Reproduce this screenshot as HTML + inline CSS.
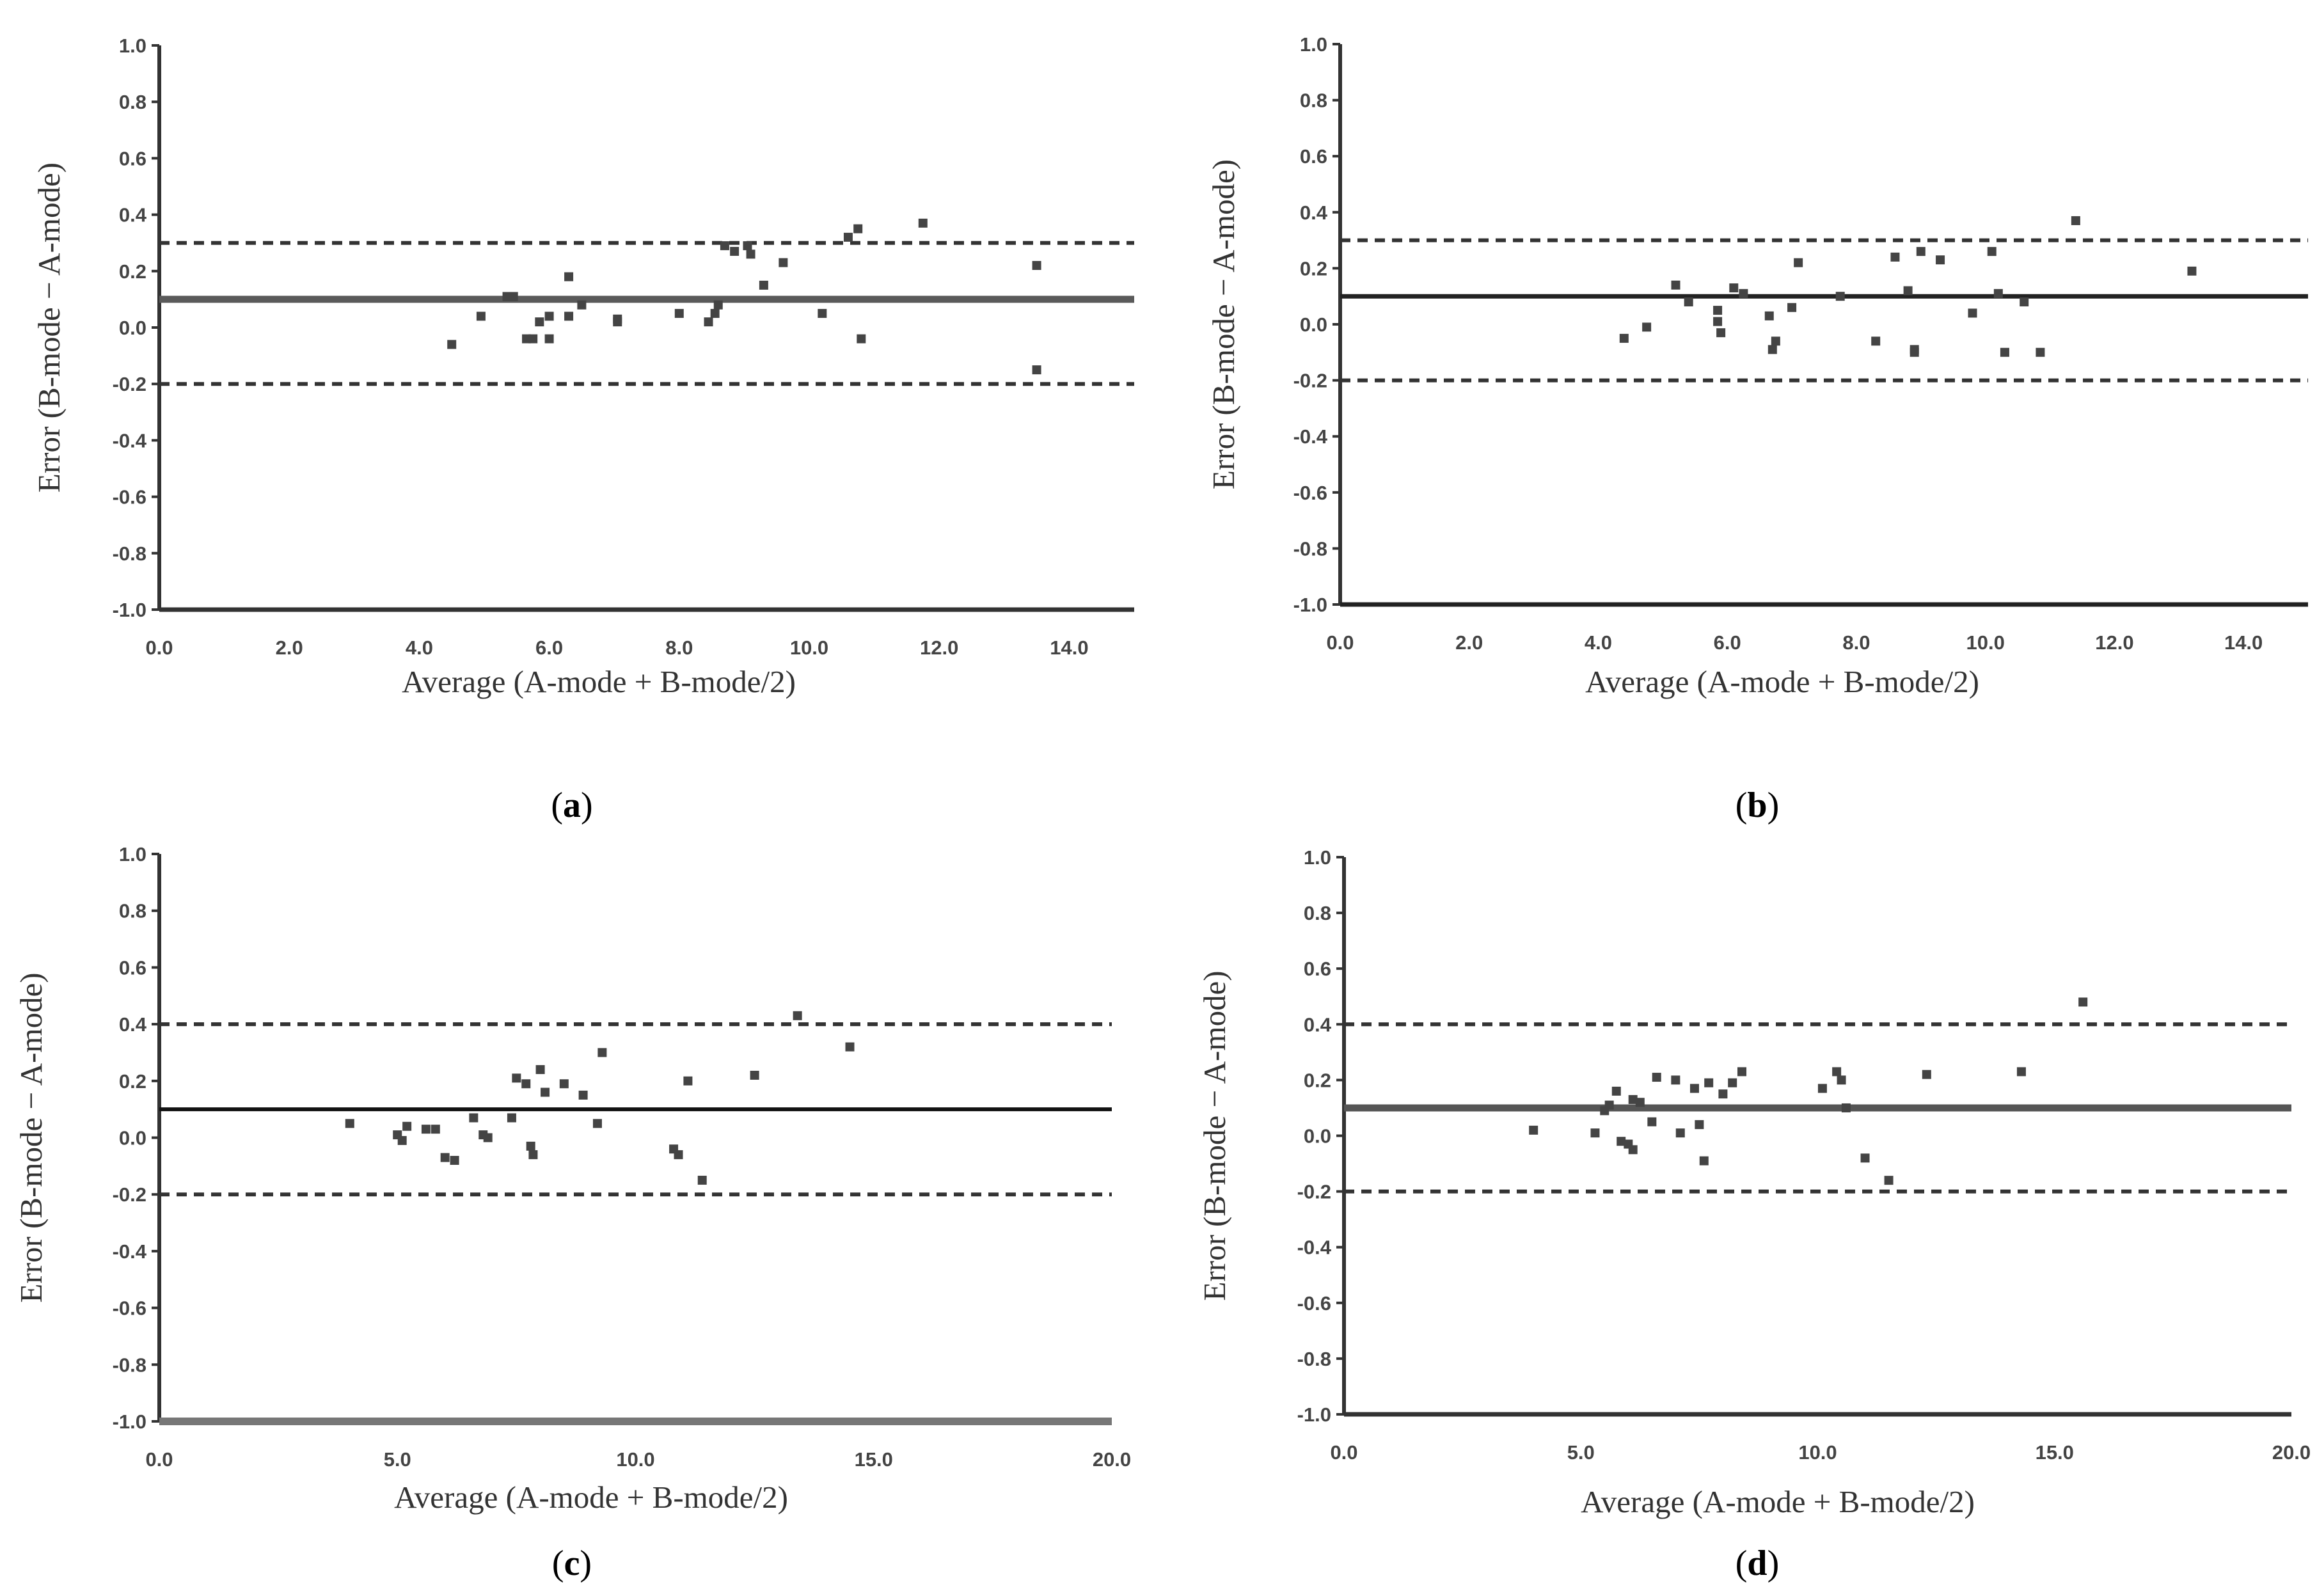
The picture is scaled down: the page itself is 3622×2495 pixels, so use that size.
<!DOCTYPE html>
<html><head><meta charset="utf-8"><style>
html,body{margin:0;padding:0;background:#fff;}
svg{display:block;font-family:"Liberation Serif",serif;}
.tick{font-family:"Liberation Sans",sans-serif;font-weight:bold;font-size:31px;fill:#444;}
.title{font-size:49px;fill:#333;}
.cap{font-size:56px;fill:#000;}
</style></head><body>
<svg id="chart" width="3622" height="2495" viewBox="0 0 3622 2495"></svg>
<script>
const yTicks = [1.0,0.8,0.6,0.4,0.2,0.0,-0.2,-0.4,-0.6,-0.8,-1.0];
const xTicks15 = [0,2,4,6,8,10,12,14];
const xTicks20 = [0,5,10,15,20];
const meanLines = [0.1,0.1,0.1,0.1];
const upperLimits = [0.3,0.3,0.4,0.4];
const lowerLimits = [-0.2,-0.2,-0.2,-0.2];
const aX = [4.5,4.95,5.35,5.45,5.65,5.75,5.85,6.0,6.0,6.3,6.3,6.5,7.05,7.05,8.0,8.45,8.55,8.6,8.7,8.85,9.05,9.1,9.3,9.6,10.2,10.6,10.75,10.8,11.75,13.5,13.5];
const aY = [-0.06,0.04,0.11,0.11,-0.04,-0.04,0.02,0.04,-0.04,0.04,0.18,0.08,0.02,0.03,0.05,0.02,0.05,0.08,0.29,0.27,0.29,0.26,0.15,0.23,0.05,0.32,0.35,-0.04,0.37,0.22,-0.15];
const bX = [4.4,4.75,5.2,5.4,5.85,5.85,5.9,6.1,6.25,6.65,6.7,6.75,7.0,7.1,7.75,8.3,8.6,8.8,8.9,8.9,9.0,9.3,9.8,10.1,10.2,10.3,10.6,10.85,11.4,13.2];
const bY = [-0.05,-0.01,0.14,0.08,0.05,0.01,-0.03,0.13,0.11,0.03,-0.09,-0.06,0.06,0.22,0.10,-0.06,0.24,0.12,-0.10,-0.09,0.26,0.23,0.04,0.26,0.11,-0.10,0.08,-0.10,0.37,0.19];
const cX = [4.0,5.0,5.1,5.2,5.6,5.8,6.0,6.2,6.6,6.8,6.9,7.4,7.5,7.7,7.8,7.85,8.0,8.1,8.5,8.9,9.2,9.3,10.8,10.9,11.1,11.4,12.5,13.4,14.5];
const cY = [0.05,0.01,-0.01,0.04,0.03,0.03,-0.07,-0.08,0.07,0.01,0.0,0.07,0.21,0.19,-0.03,-0.06,0.24,0.16,0.19,0.15,0.05,0.30,-0.04,-0.06,0.20,-0.15,0.22,0.43,0.32];
const dX = [4.0,5.3,5.5,5.6,5.75,5.85,6.0,6.1,6.1,6.25,6.5,6.6,7.0,7.1,7.4,7.5,7.6,7.7,8.0,8.2,8.4,10.1,10.4,10.5,10.6,11.0,11.5,12.3,14.3,15.6];
const dY = [0.02,0.01,0.09,0.11,0.16,-0.02,-0.03,-0.05,0.13,0.12,0.05,0.21,0.20,0.01,0.17,0.04,-0.09,0.19,0.15,0.19,0.23,0.17,0.23,0.20,0.10,-0.08,-0.16,0.22,0.23,0.48];

const NS='http://www.w3.org/2000/svg';
const svg=document.getElementById('chart');
function mk(tag,attrs,parent){const e=document.createElementNS(NS,tag);for(const k in attrs)e.setAttribute(k,attrs[k]);(parent||svg).appendChild(e);return e;}

const panels=[
 {id:'a',x0:249,x1:1773,xmax:15,xt:xTicks15,yTop:71,yBot:953,xs:aX,ys:aY,ytx:93,tx:936,ty:1082,cx:894,cy:1277,meanCol:'#5a5a5a',meanW:11,botCol:'#333'},
 {id:'b',x0:2095,x1:3608,xmax:15,xt:xTicks15,yTop:69,yBot:945,xs:bX,ys:bY,ytx:1929,tx:2786,ty:1082,cx:2747,cy:1277,meanCol:'#222',meanW:7,botCol:'#222'},
 {id:'c',x0:249,x1:1738,xmax:20,xt:xTicks20,yTop:1335,yBot:2222,xs:cX,ys:cY,ytx:65,tx:924,ty:2357,cx:894,cy:2462,meanCol:'#111',meanW:6,botCol:'#777'},
 {id:'d',x0:2101,x1:3582,xmax:20,xt:xTicks20,yTop:1340,yBot:2211,xs:dX,ys:dY,ytx:1915,tx:2779,ty:2364,cx:2747,cy:2462,meanCol:'#555',meanW:11,botCol:'#333'}
];

panels.forEach((p,pi)=>{
 const g=mk('g',{});
 
 
 const X=v=>p.x0+(v/p.xmax)*(p.x1-p.x0);
 const Y=v=>p.yTop+(1-v)/2*(p.yBot-p.yTop);
 const ya=mk('line',{x1:p.x0,y1:p.yTop,x2:p.x0,y2:p.yBot,stroke:'#333','stroke-width':6},g);
 
 
 yTicks.forEach(t=>{
  mk('line',{x1:p.x0-12,y1:Y(t),x2:p.x0,y2:Y(t),stroke:'#333','stroke-width':4},g);
  const tl=mk('text',{x:p.x0-20,y:Y(t)+11,'text-anchor':'end',class:'tick'},g);
  tl.textContent=t.toFixed(1);
  
  
 });
 const xa=mk('line',{x1:p.x0,y1:Y(-1),x2:p.x1,y2:Y(-1),stroke:p.botCol,'stroke-width':p.id==='c'?12:7},g);
 
 
 p.xt.forEach(t=>{
  const tl=mk('text',{x:X(t),y:Y(-1)+70,'text-anchor':'middle',class:'tick'},g);
  tl.textContent=t.toFixed(1);
  
  
 });
 [upperLimits[pi],lowerLimits[pi]].forEach((v,i)=>{
  const l=mk('line',{x1:p.x0,y1:Y(v),x2:p.x1,y2:Y(v),stroke:'#333','stroke-width':6,'stroke-dasharray':'16 11'},g);
  
  
 });
 const m=mk('line',{x1:p.x0,y1:Y(meanLines[pi]),x2:p.x1,y2:Y(meanLines[pi]),stroke:p.meanCol,'stroke-width':p.meanW},g);
 
 
 p.xs.forEach((xv,i)=>{
  const r=mk('rect',{x:X(xv)-7,y:Y(p.ys[i])-7,width:14,height:14,fill:'#444'},g);
  
  
 });
 const yt=mk('text',{x:p.ytx,y:(p.yTop+p.yBot)/2,'text-anchor':'middle',class:'title',transform:`rotate(-90 ${p.ytx} ${(p.yTop+p.yBot)/2})`},g);
 yt.textContent='Error (B-mode \u2212 A-mode)';
 
 
 const xt=mk('text',{x:p.tx,y:p.ty,'text-anchor':'middle',class:'title'},g);
 xt.textContent='Average (A-mode + B-mode/2)';
 
 
 const cap=mk('text',{x:p.cx,y:p.cy,'text-anchor':'middle',class:'cap'},g);
 cap.innerHTML='(<tspan font-weight="bold">'+p.id+'</tspan>)';
 
 
});
</script>
</body></html>
